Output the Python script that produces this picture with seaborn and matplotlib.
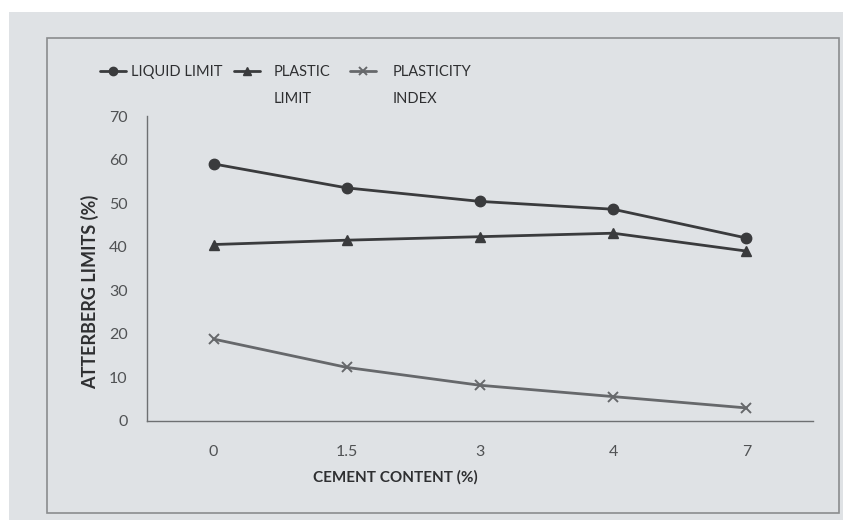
import matplotlib
matplotlib.use("Agg")
import matplotlib.pyplot as plt
import matplotlib.patches as mpatches
import seaborn as sns
import pandas as pd

# ---- data ----
cement = ["0", "1.5", "3", "4", "7"]
liquid_limit = [59.0, 53.5, 50.4, 48.6, 42.0]
plastic_limit = [40.5, 41.5, 42.3, 43.1, 39.0]
plasticity_index = [18.8, 12.3, 8.2, 5.6, 3.0]
series_names = ["LIQUID LIMIT", "PLASTIC LIMIT", "PLASTICITY INDEX"]
legend_first = ["LIQUID LIMIT", "PLASTIC", "PLASTICITY"]
legend_second = ["", "LIMIT", "INDEX"]
y_ticks = [0, 10, 20, 30, 40, 50, 60, 70]

df = pd.DataFrame({
    "cement": cement * 3,
    "value": liquid_limit + plastic_limit + plasticity_index,
    "series": [series_names[0]] * 5 + [series_names[1]] * 5 + [series_names[2]] * 5,
})

sns.set_theme(style="white")
plt.rcParams["font.family"] = ["Lato", "DejaVu Sans"]

BG = "#dfe2e5"
TXT = "#2e2f31"
W, H = 843, 520
fig = plt.figure(figsize=(W / 100, H / 100), dpi=100, facecolor="white")
fig.patches.append(mpatches.Rectangle((9 / W, 0), 1, 1 - 12 / H, transform=fig.transFigure,
                                      facecolor=BG, edgecolor="none", zorder=-10))
fig.patches.append(mpatches.Rectangle((47 / W, 1 - 513 / H), (839 - 47) / W, (513 - 38) / H,
                                      transform=fig.transFigure, facecolor="none",
                                      edgecolor="#8a8c8e", lw=1.2, zorder=-5))

ax = fig.add_axes([147 / W, 1 - 421 / H, (813 - 147) / W, (421 - 116) / H])
ax.set_facecolor("none")

colors = {series_names[0]: "#3a3b3d", series_names[1]: "#3a3b3d", series_names[2]: "#66686b"}
markers = {series_names[0]: "o", series_names[1]: "^", series_names[2]: "x"}
sizes = {series_names[0]: 7.5, series_names[1]: 7, series_names[2]: 7}

for name in series_names:
    sub = df[df["series"] == name]
    sns.lineplot(data=sub, x="cement", y="value", ax=ax, color=colors[name],
                 marker=markers[name], markersize=sizes[name], lw=2.0,
                 markeredgecolor=colors[name],
                 markeredgewidth=1.0 if name != series_names[2] else 1.4,
                 label=name, sort=False)

ax.set_xlim(-0.5, 4.5)
ax.set_ylim(0, 70)
ax.set_yticks(y_ticks)
ax.tick_params(axis="both", length=0, labelsize=11.5, labelcolor="#505254")
ax.tick_params(axis="x", pad=17)
ax.tick_params(axis="y", pad=14)
for side in ["top", "right"]:
    ax.spines[side].set_visible(False)
for side in ["left", "bottom"]:
    ax.spines[side].set_color("#6e7072")
    ax.spines[side].set_linewidth(1.0)
ax.set_xlabel("")
ax.set_ylabel("")

fig.text(395 / W, 1 - 477 / H, "CEMENT CONTENT (%)", ha="center", va="center",
         fontsize=11, fontweight="bold", color=TXT)
fig.text(90 / W, 1 - 292 / H, "ATTERBERG LIMITS (%)", ha="center", va="center",
         rotation=90, fontsize=13, fontweight="bold", color=TXT)

# legend: one entry per legend so each sits where the reference has it
handles, _ = ax.get_legend_handles_labels()
legend_x = [100, 234, 350]
text_pad = [0.35, 0.9, 1.1]
legs = []
for i, (h, lab, lx, tp) in enumerate(zip(handles, legend_first, legend_x, text_pad)):
    lg = ax.legend([h], [lab], frameon=False, loc="center left",
                   bbox_to_anchor=(lx / W, 1 - 72 / H), bbox_transform=fig.transFigure,
                   fontsize=10.5, handlelength=1.8, handletextpad=tp, borderpad=0,
                   borderaxespad=0, labelcolor=TXT, markerscale=0.8)
    if i < len(handles) - 1:
        ax.add_artist(lg)
    legs.append(lg)

fig.canvas.draw()
renderer = fig.canvas.get_renderer()
inv = fig.transFigure.inverted()
for lg, second in zip(legs, legend_second):
    if not second:
        continue
    txt = lg.get_texts()[0]
    bb = txt.get_window_extent(renderer)
    x0, y0 = inv.transform((bb.x0, bb.y0 - 27))
    fig.text(x0, y0, second, ha="left", va="bottom", color=TXT, fontsize=10.5)

fig.savefig("out.png", dpi=100, facecolor=fig.get_facecolor())
